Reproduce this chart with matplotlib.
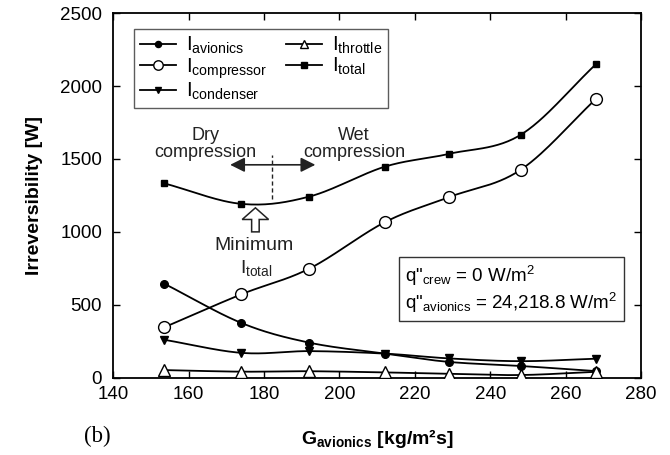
import matplotlib
matplotlib.use('Agg')
import matplotlib.pyplot as plt
from matplotlib.lines import Line2D
from matplotlib.patches import FancyArrow
import numpy as np

plt.rcParams['font.family'] = ['Liberation Sans', 'DejaVu Sans']
plt.rcParams['mathtext.fontset'] = 'custom'
plt.rcParams['mathtext.rm'] = 'Liberation Sans'
plt.rcParams['mathtext.it'] = 'Liberation Sans'
plt.rcParams['mathtext.bf'] = 'Liberation Sans:bold'

# mass flux of the avionics stream
g_avionics = [153.5, 174, 192, 212, 229, 248, 268]

# irreversibility of each component [W]
i_avionics = [645, 375, 240, 165, 108, 80, 45]
i_compressor = [345, 572, 748, 1066, 1238, 1425, 1912]
i_condenser = [260, 170, 182, 165, 132, 113, 130]
i_throttle = [52, 41, 44, 36, 26, 18, 40]
i_total = [1333, 1192, 1242, 1447, 1535, 1665, 2150]


def smooth(x, y, n=30):
    # Catmull-Rom curve through the points
    x = np.asarray(x, float)
    y = np.asarray(y, float)
    px = np.concatenate([[2 * x[0] - x[1]], x, [2 * x[-1] - x[-2]]])
    py = np.concatenate([[2 * y[0] - y[1]], y, [2 * y[-1] - y[-2]]])
    xs, ys = [], []
    t = np.linspace(0, 1, n)
    for i in range(1, len(px) - 2):
        for p, out in ((px, xs), (py, ys)):
            p0, p1, p2, p3 = p[i - 1], p[i], p[i + 1], p[i + 2]
            out.extend(0.5 * ((2 * p1) + (-p0 + p2) * t
                              + (2 * p0 - 5 * p1 + 4 * p2 - p3) * t ** 2
                              + (-p0 + 3 * p1 - 3 * p2 + p3) * t ** 3))
    return np.array(xs), np.array(ys)


fig = plt.figure(figsize=(6.7, 4.55), dpi=100)
ax = fig.add_axes([0.169, 0.170, 0.788, 0.801])

series = [
    (i_avionics, dict(marker='o', mfc='black', ms=5.5), r'$\mathrm{I}_{\mathrm{avionics}}$'),
    (i_compressor, dict(marker='o', mfc='white', ms=8.5), r'$\mathrm{I}_{\mathrm{compressor}}$'),
    (i_condenser, dict(marker='v', mfc='black', ms=5.5), r'$\mathrm{I}_{\mathrm{condenser}}$'),
    (i_throttle, dict(marker='^', mfc='white', ms=8), r'$\mathrm{I}_{\mathrm{throttle}}$'),
    (i_total, dict(marker='s', mfc='black', ms=5), r'$\mathrm{I}_{\mathrm{total}}$'),
]

handles = []
for vals, mk, label in series:
    sx, sy = smooth(g_avionics, vals)
    ax.plot(sx, sy, color='black', lw=1.3, zorder=2)
    ax.plot(g_avionics, vals, linestyle='none', mec='black', mew=1.0,
            color='black', zorder=3, **mk)
    leg_mk = dict(mk, ms=mk['ms'] * 0.8)
    handles.append(Line2D([], [], color='black', lw=1.3, mec='black', mew=1.0, label=label, **leg_mk))

leg = ax.legend(handles=handles, ncol=2, loc='upper left', bbox_to_anchor=(0.02, 0.985),
                fontsize=14.5, frameon=True, fancybox=False, edgecolor='#333333',
                handlelength=1.8, handletextpad=0.5, columnspacing=0.9,
                labelspacing=0.0, borderpad=0.3)
leg.get_frame().set_linewidth(1.0)

# dry / wet compression regions
ax.text(164.5, 1600, 'Dry\ncompression', ha='center', va='center', fontsize=13,
        linespacing=1.0, color='#222222')
ax.text(203.8, 1600, 'Wet\ncompression', ha='center', va='center', fontsize=13,
        linespacing=1.0, color='#222222')
ax.annotate('', xy=(171.0, 1460), xytext=(193.6, 1460),
            arrowprops=dict(arrowstyle='<|-|>', color='#222222', lw=1.2,
                            mutation_scale=22, shrinkA=0, shrinkB=0))
ax.plot([182.2, 182.2], [1225, 1530], color='#222222', lw=1.0, ls=(0, (3, 2)))

# minimum of the total irreversibility
ax.add_patch(FancyArrow(177.7, 1000, 0, 165, width=2.0, head_width=7.0,
                        head_length=80, length_includes_head=True,
                        facecolor='white', edgecolor='#222222', lw=1.1, zorder=4))
ax.text(177.3, 905, 'Minimum', ha='center', va='center', fontsize=14, color='#222222')
ax.text(177.8, 755, r'$\mathrm{I}_{\mathrm{total}}$', ha='center', va='center',
        fontsize=14, color='#222222')

ax.text(0.553, 0.243,
        'q"$_{\\mathrm{crew}}$ = 0 W/m$^{2}$\nq"$_{\\mathrm{avionics}}$ = 24,218.8 W/m$^{2}$',
        transform=ax.transAxes, ha='left', va='center', fontsize=13.5, linespacing=1.15,
        bbox=dict(boxstyle='square,pad=0.35', facecolor='white', edgecolor='#333333', lw=1.0))

ax.set_xlim(140, 280)
ax.set_ylim(0, 2500)
ax.set_xticks(np.arange(140, 281, 20))
ax.set_yticks(np.arange(0, 2501, 500))
ax.tick_params(direction='in', length=5, width=1, labelsize=13.5, top=True, right=True,
               colors='black', pad=6)
ax.tick_params(axis='y', pad=8)
for s in ax.spines.values():
    s.set_linewidth(1.3)

ax.set_xlabel(r'G$_{\mathbf{avionics}}$ [kg/m²s]', fontsize=14, fontweight='bold', labelpad=17)
ax.set_ylabel('Irreversibility [W]', fontsize=14, fontweight='bold', labelpad=12)
fig.text(0.125, 0.040, '(b)', fontsize=16.5, family='Liberation Serif', ha='left', va='center')

fig.savefig('out.png', dpi=100)
plt.close(fig)
